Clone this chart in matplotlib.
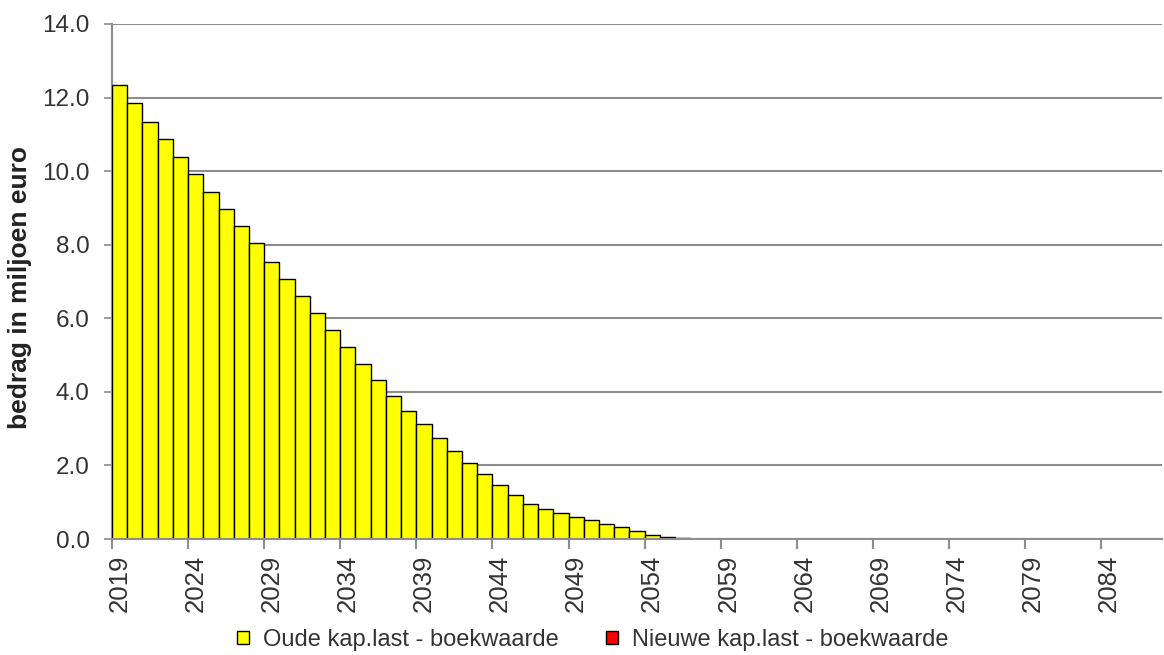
import matplotlib
matplotlib.use("Agg")
import matplotlib.pyplot as plt
from matplotlib.patches import Patch
import numpy as np

plt.rcParams['font.family'] = ['Liberation Sans', 'DejaVu Sans']

# Years 2019 .. 2087
years = list(range(2019, 2088))

# Old capital charges - book value (million euro)
oude_kaplast = [
    12.34, 11.84, 11.34, 10.88, 10.39, 9.93, 9.43, 8.97, 8.51, 8.04,
    7.54, 7.07, 6.61, 6.15, 5.69, 5.21, 4.77, 4.33, 3.90, 3.48,
    3.12, 2.75, 2.40, 2.07, 1.77, 1.47, 1.20, 0.94, 0.82, 0.70,
    0.59, 0.51, 0.40, 0.32, 0.21, 0.12, 0.05, 0.02, 0.01,
]
oude_kaplast += [0.0] * (len(years) - len(oude_kaplast))

# New capital charges - book value (million euro)
nieuwe_kaplast = [0.0] * len(years)

series_labels = ["Oude kap.last - boekwaarde", "Nieuwe kap.last - boekwaarde"]
series_colors = ["#FFFF00", "#FF0000"]

y_ticks = [0, 2, 4, 6, 8, 10, 12, 14]
label_step = 5

text_color = "#333333"
grid_color = "#8c8c8c"

fig = plt.figure(figsize=(11.64, 6.55), dpi=100)
ax = fig.add_axes([112 / 1164, 1 - 539 / 655, 1050 / 1164, 515 / 655])

x = np.arange(len(years))
ax.bar(x, oude_kaplast, width=1.0, color=series_colors[0],
       edgecolor="black", linewidth=1.0, zorder=3)
ax.bar(x, nieuwe_kaplast, width=1.0, bottom=oude_kaplast,
       color=series_colors[1], linewidth=0, zorder=3)

ax.set_xlim(-0.5, len(years) - 0.5)
ax.set_ylim(0, 14)

# y axis
ax.set_yticks(y_ticks)
ax.set_yticklabels([f"{v:.1f}" for v in y_ticks])
ax.yaxis.grid(True, color=grid_color, linewidth=1.5, zorder=0)
ax.set_axisbelow(True)
ax.tick_params(axis="y", length=6, width=1.2, color=grid_color, pad=10,
               labelsize=17.5, labelcolor=text_color)

# x axis: labels centred on categories, tick marks on category boundaries
label_pos = x[::label_step]
ax.set_xticks(label_pos)
ax.set_xticklabels([str(years[i]) for i in label_pos], rotation=90)
ax.set_xticks(label_pos - 0.5, minor=True)
ax.tick_params(axis="x", which="major", length=0, pad=11,
               labelsize=18.5, labelcolor=text_color)
ax.tick_params(axis="x", which="minor", length=7, width=1.5, color=grid_color)

for side in ("top", "right"):
    ax.spines[side].set_visible(False)
for side in ("left", "bottom"):
    ax.spines[side].set_color(grid_color)
    ax.spines[side].set_linewidth(1.5)
ax.spines["bottom"].set_zorder(4)

fig.text(20 / 1164, 1 - 288 / 655, "bedrag in miljoen euro", rotation=90,
         ha="center", va="center", fontsize=19, fontweight="bold",
         color="#222222")

handles = [Patch(facecolor=c, edgecolor="black", linewidth=1.0)
           for c in series_colors]
fig.legend(handles, series_labels, loc="center", ncol=2,
           bbox_to_anchor=(0.509, 1 - 640 / 655), frameon=False,
           fontsize=17, labelcolor=text_color, handlelength=0.5,
           handleheight=0.5, handletextpad=0.6, columnspacing=2.0)

fig.savefig("out.png", dpi=100)
